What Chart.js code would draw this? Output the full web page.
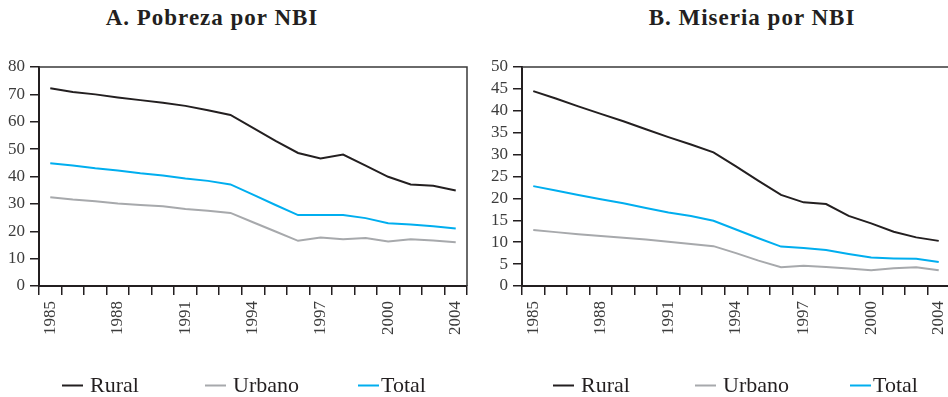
<!DOCTYPE html>
<html>
<head>
<meta charset="utf-8">
<script src="https://cdn.jsdelivr.net/npm/chart.js@4.4.1/dist/chart.umd.min.js"></script>
<style>
  html, body { margin: 0; padding: 0; background: #fff; width: 948px; height: 397px; overflow: hidden; position: relative; }
  .title { position: absolute; top: 6px; width: 320px; text-align: center; white-space: nowrap;
           font: bold 23px/23px "Liberation Serif", serif; letter-spacing: 1px; color: #231f20; }
  canvas { position: absolute; top: 0; }
</style>
</head>
<body>
<div class="title" style="left:52px">A. Pobreza por NBI</div>
<div class="title" style="left:592px">B. Miseria por NBI</div>
<canvas id="chartA" width="492" height="397" style="left:0px;width:492px;height:397px"></canvas>
<canvas id="chartB" width="511" height="397" style="left:482px;width:511px;height:397px"></canvas>
<script>
// Years of the series; only some of them get a printed label
const years = ['1985','1986','1987','1988','1989','1990','1991','1992','1993','1994',
               '1995','1996','1997','1998','1999','2000','2002','2003','2004'];
const labeledYears = ['1985','1988','1991','1994','1997','2000','2004'];

const seriesNames = ['Rural', 'Urbano', 'Total'];
const seriesColors = ['#231f20', '#a7a9ac', '#00aeef'];

// A. Pobreza por NBI (%)
const pobrezaRural  = [72.2, 70.9, 70.0, 68.9, 67.9, 66.9, 65.8, 64.2, 62.5, 57.8, 53.0, 48.6, 46.6, 48.0, 44.0, 39.9, 37.1, 36.6, 34.9];
const pobrezaUrbano = [32.4, 31.6, 31.0, 30.1, 29.6, 29.1, 28.1, 27.5, 26.7, 23.3, 19.9, 16.5, 17.7, 17.1, 17.5, 16.3, 17.1, 16.6, 16.0];
const pobrezaTotal  = [44.8, 44.0, 43.0, 42.2, 41.2, 40.4, 39.3, 38.4, 37.1, 33.4, 29.6, 25.9, 25.9, 25.9, 24.8, 22.9, 22.5, 21.8, 21.0];

// B. Miseria por NBI (%)
const miseriaRural  = [44.5, 42.8, 41.0, 39.3, 37.6, 35.8, 34.0, 32.3, 30.5, 27.3, 24.0, 20.8, 19.1, 18.7, 16.0, 14.3, 12.4, 11.1, 10.3];
const miseriaUrbano = [12.8, 12.3, 11.8, 11.4, 11.0, 10.6, 10.1, 9.6, 9.1, 7.5, 5.8, 4.3, 4.65, 4.35, 4.0, 3.6, 4.05, 4.3, 3.6];
const miseriaTotal  = [22.8, 21.8, 20.8, 19.8, 18.9, 17.8, 16.8, 16.0, 14.9, 12.9, 10.9, 9.0, 8.7, 8.2, 7.3, 6.5, 6.3, 6.2, 5.5];

const serif = '"Liberation Serif", "Times New Roman", serif';
const inkColor = '#231f20';
const tickTextColor = '#3c3c3c';

// Top and right edges of the plot box
const framePlugin = {
  id: 'frame',
  afterDraw(chart) {
    const { ctx, chartArea: { left, top, right, bottom } } = chart;
    ctx.save();
    ctx.strokeStyle = '#3a3a3a';
    ctx.lineWidth = 1.5;
    ctx.beginPath();
    ctx.moveTo(left, top);
    ctx.lineTo(right, top);
    ctx.lineTo(right, bottom);
    ctx.stroke();
    ctx.restore();
  }
};

// Legend row under the axis: a short line sample followed by the series name
const lineLegendPlugin = {
  id: 'lineLegend',
  afterDraw(chart, args, opts) {
    const { ctx } = chart;
    ctx.save();
    ctx.font = `22px ${serif}`;
    ctx.textBaseline = 'alphabetic';
    ctx.textAlign = 'left';
    chart.data.datasets.forEach((ds, i) => {
      const x = opts.starts[i];
      ctx.strokeStyle = ds.borderColor;
      ctx.lineWidth = 2;
      ctx.beginPath();
      ctx.moveTo(x, opts.lineY);
      ctx.lineTo(x + opts.sampleWidth, opts.lineY);
      ctx.stroke();
      ctx.fillStyle = inkColor;
      ctx.fillText(ds.label, x + opts.sampleWidth + opts.gaps[i], opts.baseline);
    });
    ctx.restore();
  }
};

function buildChart(canvasId, values, yMax, yStep, axisWidth, rightSpace, legendStarts) {
  return new Chart(document.getElementById(canvasId), {
    type: 'line',
    data: {
      labels: years,
      datasets: seriesNames.map((name, i) => ({
        label: name,
        data: values[i],
        borderColor: seriesColors[i],
        backgroundColor: seriesColors[i],
        borderWidth: 2,
        pointRadius: 0,
        tension: 0,
        fill: false
      }))
    },
    options: {
      responsive: false,
      animation: false,
      layout: { padding: { top: 67, left: 0, right: 0, bottom: 51 } },
      plugins: {
        tooltip: { enabled: false },
        legend: { display: false },
        lineLegend: { starts: legendStarts, gaps: [7, 7, 2], sampleWidth: 21, lineY: 385.5, baseline: 392 }
      },
      scales: {
        x: {
          offset: true,
          grid: { offset: true, drawOnChartArea: false, drawTicks: true, tickLength: 9, color: inkColor, lineWidth: 1.5 },
          border: { display: true, color: inkColor, width: 2 },
          ticks: {
            autoSkip: false,
            maxRotation: 90,
            minRotation: 90,
            padding: 6,
            color: tickTextColor,
            font: { family: serif, size: 17, lineHeight: 1 },
            callback: (value, index) => labeledYears.includes(years[index]) ? years[index] : ''
          },
          afterFit: scale => { scale.height = 60; }
        },
        y: {
          min: 0,
          max: yMax,
          grid: { drawOnChartArea: false, drawTicks: true, tickLength: 9, color: inkColor, lineWidth: 1.5 },
          border: { display: true, color: inkColor, width: 2 },
          ticks: { stepSize: yStep, autoSkip: false, padding: 5, color: tickTextColor, font: { family: serif, size: 17, lineHeight: 1 } },
          afterFit: scale => { scale.width = axisWidth; }
        },
        gutter: {
          type: 'linear',
          axis: 'y',
          position: 'right',
          display: true,
          grid: { display: false },
          border: { display: false },
          ticks: { display: false },
          afterFit: scale => { scale.width = rightSpace; }
        }
      }
    },
    plugins: [framePlugin, lineLegendPlugin]
  });
}

buildChart('chartA', [pobrezaRural, pobrezaUrbano, pobrezaTotal], 80, 10, 39, 25, [62, 205, 358]);
buildChart('chartB', [miseriaRural, miseriaUrbano, miseriaTotal], 50, 5, 40, 43, [71, 213, 368]);
</script>
</body>
</html>
